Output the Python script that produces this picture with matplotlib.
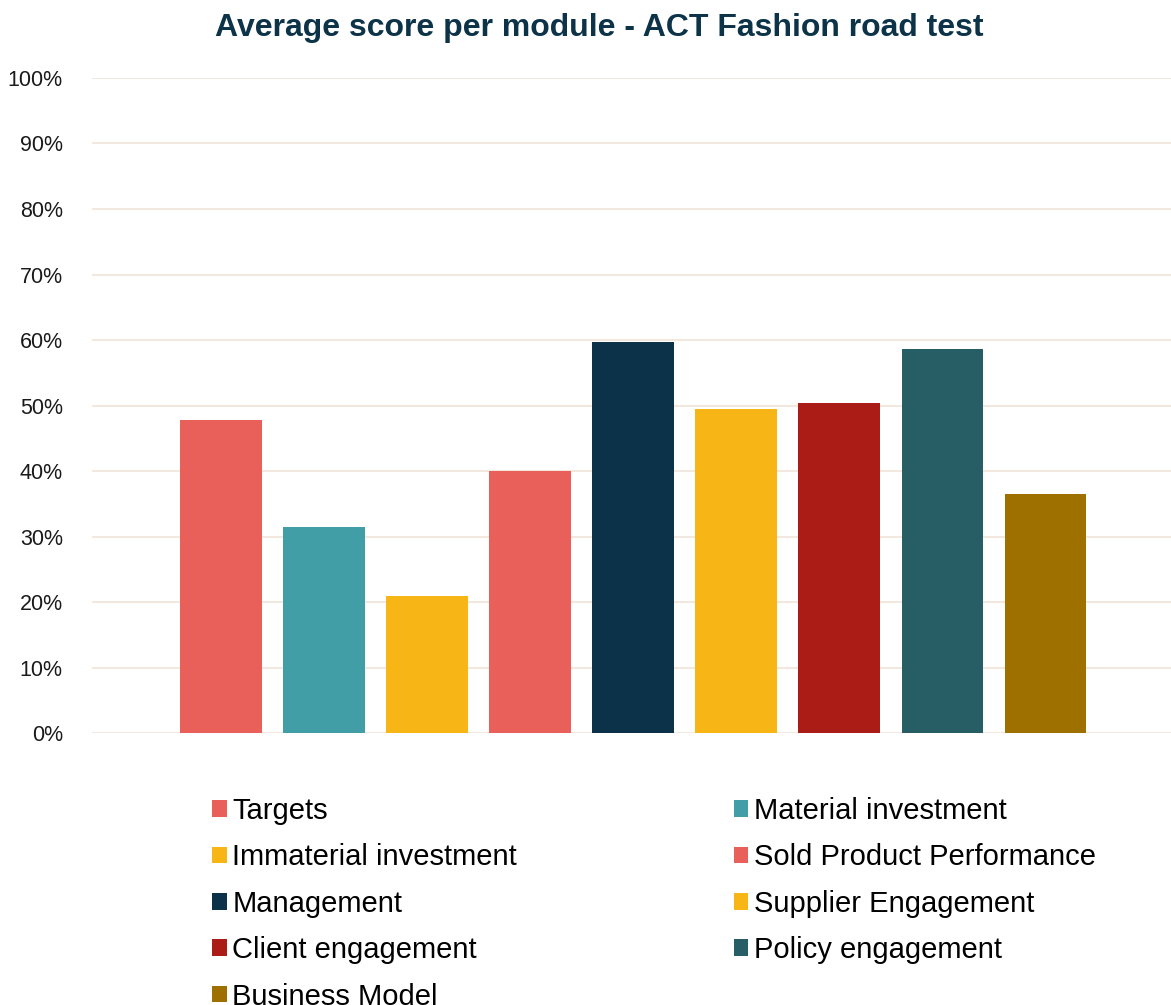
import matplotlib
matplotlib.use('Agg')
import matplotlib.pyplot as plt
from matplotlib.ticker import PercentFormatter
from matplotlib.patches import Patch

plt.rcParams['font.family'] = ['Liberation Sans', 'DejaVu Sans']

# module scores (fraction of max)
modules = ['Targets', 'Material investment', 'Immaterial investment',
           'Sold Product Performance', 'Management', 'Supplier Engagement',
           'Client engagement', 'Policy engagement', 'Business Model']
scores = [0.478, 0.314, 0.209, 0.400, 0.597, 0.495, 0.504, 0.586, 0.365]
colors = ['#E9605A', '#419DA6', '#F8B516', '#E9605A', '#0B3249',
          '#F8B516', '#AB1C17', '#275E65', '#9E7000']

fig = plt.figure(figsize=(11.71, 10.05), dpi=100)
ax = fig.add_axes([0.0786, 0.2706, 0.9214, 0.6518])

x = list(range(len(modules)))
ax.bar(x, scores, width=0.79, color=colors, zorder=3)

ax.set_ylim(0, 1)
ax.set_xlim(-1.25, 9.22)
ax.set_yticks([i / 10 for i in range(11)])
ax.yaxis.set_major_formatter(PercentFormatter(1.0, decimals=0))
ax.tick_params(axis='y', length=0, pad=21, labelsize=15.5, labelcolor='#1a1a1a')
ax.set_xticks([])
ax.grid(axis='y', color='#F2E8E0', linewidth=1.5, zorder=0)
for s in ax.spines.values():
    s.set_visible(False)

fig.text(599 / 1171, 1 - 28 / 1005, 'Average score per module - ACT Fashion road test',
         ha='center', va='center', fontsize=23, fontweight='bold', color='#0D3349')

# legend is row-major in the reference; matplotlib fills columns first
order = [0, 2, 4, 6, 8, 1, 3, 5, 7]
handles = [Patch(facecolor=colors[i], label=modules[i]) for i in order]
fig.legend(handles=handles, ncol=2, loc='upper left',
           bbox_to_anchor=(212 / 1171, 1 - 797 / 1005), frameon=False,
           fontsize=21, handlelength=0.5, handleheight=0.5, handletextpad=0.2,
           labelspacing=0.63, columnspacing=7.43, borderaxespad=0, borderpad=0)

fig.savefig('out.png', dpi=100)
